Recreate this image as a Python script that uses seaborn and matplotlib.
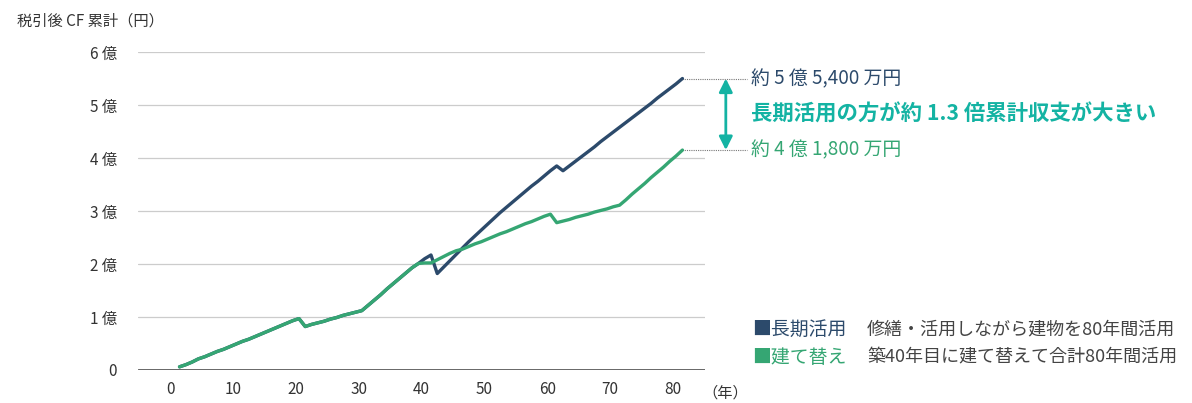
import numpy as np
import pandas as pd
import seaborn as sns
import matplotlib.pyplot as plt

# 経過年（プロット位置）
years = [i + 0.5 for i in range(1, 82)]

# 税引後CF累計（億円）
early = [0.06, 0.10, 0.15, 0.21, 0.25, 0.30, 0.35, 0.39, 0.44, 0.49,
         0.54, 0.58, 0.63, 0.68, 0.73, 0.78, 0.83, 0.88, 0.93, 0.97,
         0.82, 0.86, 0.89, 0.92, 0.96, 0.99, 1.03, 1.06, 1.09, 1.12,
         1.22, 1.32, 1.42, 1.53, 1.63, 1.73, 1.83, 1.93, 2.01]

long_use = early + [
    2.10, 2.17, 1.82, 1.94, 2.06, 2.18, 2.30, 2.42, 2.53, 2.64,
    2.75, 2.86, 2.97, 3.07, 3.17, 3.27, 3.37, 3.47, 3.56, 3.66,
    3.76, 3.85, 3.76, 3.85, 3.94, 4.03, 4.12, 4.21, 4.31, 4.40,
    4.49, 4.58, 4.67, 4.76, 4.85, 4.94, 5.03, 5.13, 5.22, 5.31,
    5.40, 5.50]

rebuild = early + [
    2.02, 2.02, 2.08, 2.14, 2.20, 2.25, 2.28, 2.33, 2.38, 2.42,
    2.47, 2.52, 2.57, 2.61, 2.66, 2.71, 2.76, 2.80, 2.85, 2.90,
    2.94, 2.78, 2.81, 2.84, 2.88, 2.91, 2.94, 2.98, 3.01, 3.04,
    3.08, 3.11, 3.21, 3.32, 3.42, 3.52, 3.63, 3.73, 3.83, 3.94,
    4.04, 4.15]

series_names = ["長期活用", "建て替え"]
series_desc = ["修繕・活用しながら建物を80年間活用", "築40年目に建て替えて合計80年間活用"]
end_labels = ["約 5 億 5,400 万円", "約 4 億 1,800 万円"]
y_ticks = [0, 1, 2, 3, 4, 5, 6]
y_labels = ["0", "1 億", "2 億", "3 億", "4 億", "5 億", "6 億"]
x_ticks = [0, 10, 20, 30, 40, 50, 60, 70, 80]

navy = "#2c4a6b"
green = "#35a673"
teal = "#14b3a3"
txt = "#333333"

df = pd.DataFrame({
    "year": years * 2,
    "value": long_use + rebuild,
    "series": [series_names[0]] * len(years) + [series_names[1]] * len(years),
})

sns.set_theme(style="white")
plt.rcParams["font.family"] = ["Noto Sans CJK JP", "DejaVu Sans"]

fig = plt.figure(figsize=(11.92, 4.03), dpi=100)
ax = fig.add_axes([0.1158, 0.0819, 0.4757, 0.789])

for t in y_ticks[1:]:
    ax.axhline(t, color="#cccccc", lw=0.9, zorder=0)

sns.lineplot(data=df, x="year", y="value", hue="series", hue_order=series_names,
             palette=[navy, green], linewidth=2.4, legend=False, ax=ax, zorder=3)
ax.axhline(0, color="#3a3a3a", lw=1.8, zorder=4)

ax.set_xlim(-5.1, 85.1)
ax.set_ylim(0, 6)
ax.set_xticks(x_ticks)
ax.set_xticklabels([str(v) for v in x_ticks], fontsize=11, color=txt)
ax.set_yticks(y_ticks)
ax.set_yticklabels(y_labels, fontsize=11, color=txt)
ax.tick_params(axis="both", length=0, pad=8)
ax.tick_params(axis="y", pad=15)
ax.set_xlabel("")
ax.set_ylabel("")
for s in ax.spines.values():
    s.set_visible(False)

fig.text(0.0143, 0.947, "税引後 CF 累計（円）", fontsize=11, color=txt, va="center")
ax.text(84.6, -0.44, "（年）", fontsize=11, color=txt, va="center", ha="left")

# 終点の注記
x_end = years[-1]
x_txt = 92.4
for val, lab, col in [(long_use[-1], end_labels[0], navy), (rebuild[-1], end_labels[1], green)]:
    ax.plot([x_end, x_txt - 0.6], [val, val], ls=(0, (1, 1)), color="#777777", lw=0.8, clip_on=False)
    ax.text(x_txt, val, lab, color=col, fontsize=13.6, va="center", ha="left")

ax.annotate("", xy=(88.4, rebuild[-1]), xytext=(88.4, long_use[-1]),
            arrowprops=dict(arrowstyle="<|-|>", color=teal, lw=2, mutation_scale=20,
                            shrinkA=0, shrinkB=0), annotation_clip=False)
ax.text(x_txt, (long_use[-1] + rebuild[-1]) / 2, "長期活用の方が約 1.3 倍累計収支が大きい",
        color=teal, fontsize=15.4, fontweight="bold", va="center", ha="left")

# 凡例
for i, (name, desc, col) in enumerate(zip(series_names, series_desc, [navy, green])):
    y = 0.1836 - i * 0.0695
    fig.text(0.6309, y, "■" + name, color=col, fontsize=13.6, va="center")
    fig.text(0.7273, y, desc, color="#444444", fontsize=13, va="center")

fig.savefig("out.png", dpi=100)
